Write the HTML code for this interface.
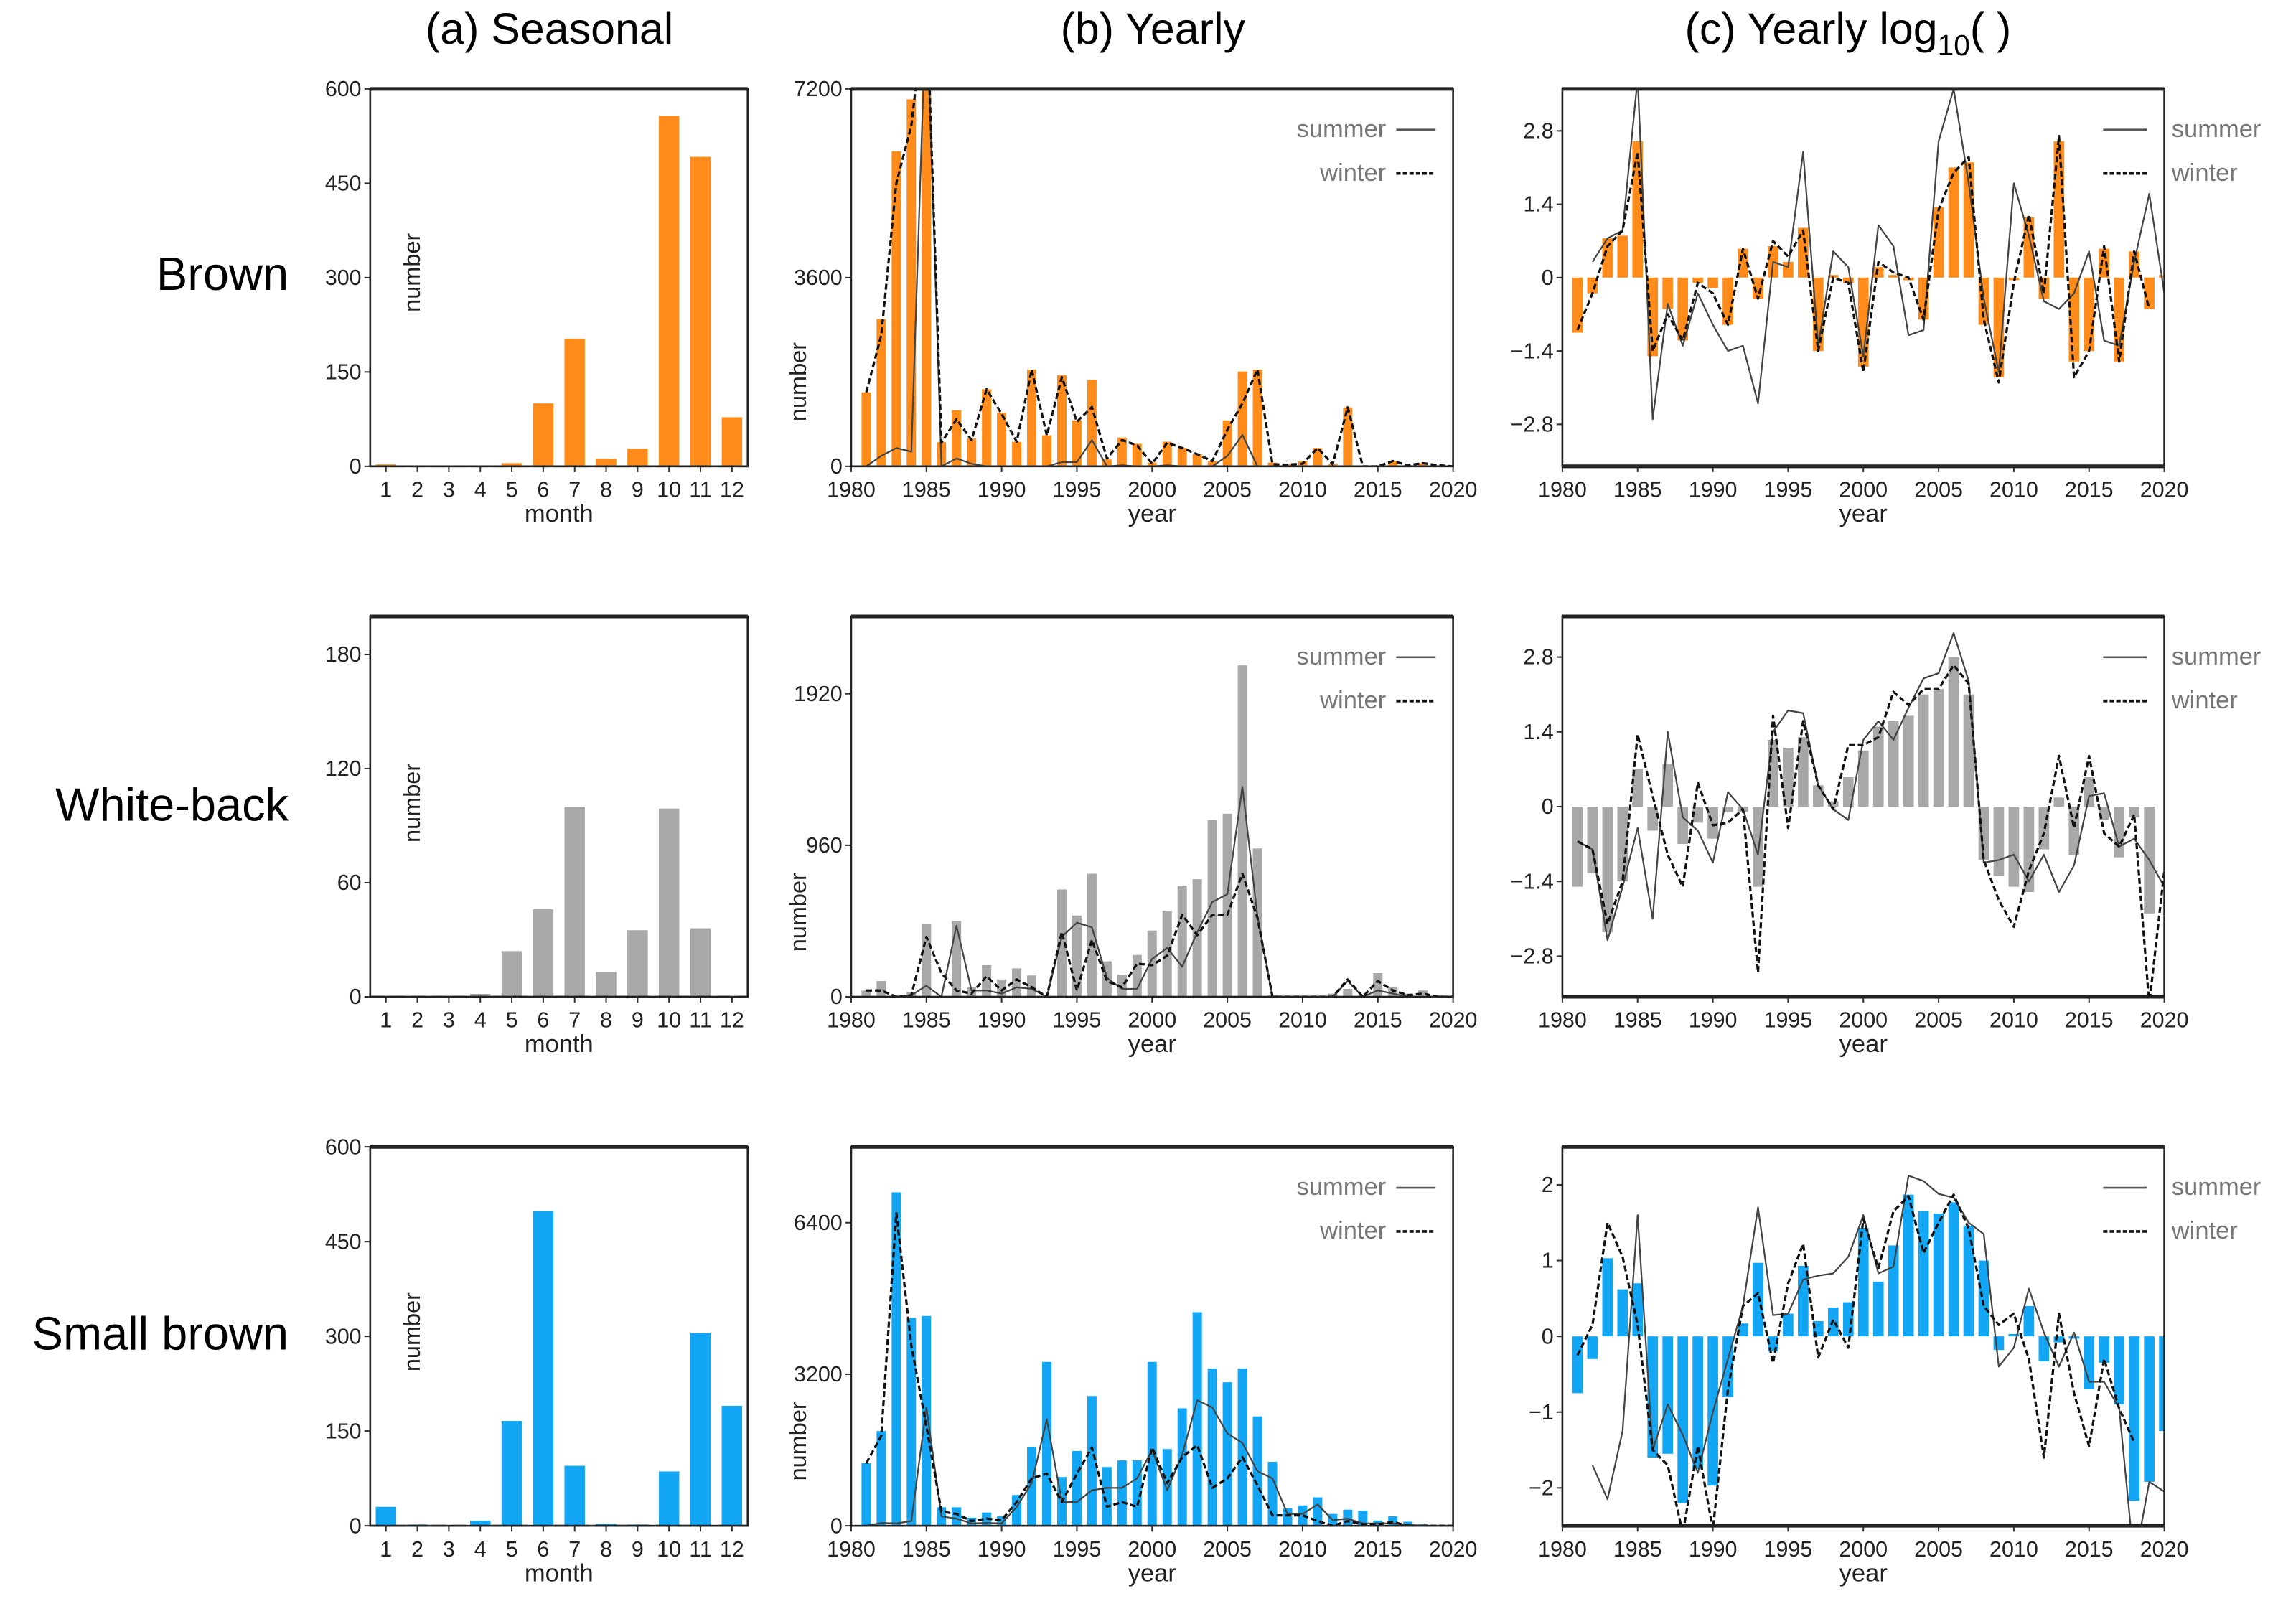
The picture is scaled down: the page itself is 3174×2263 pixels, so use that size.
<!DOCTYPE html>
<html><head><meta charset="utf-8"><title>Seasonal and yearly counts</title>
<style>
html,body{margin:0;padding:0;background:#fff;}
svg{display:block;font-family:"Liberation Sans",sans-serif;}
</style></head>
<body>
<svg id="fig" width="3174" height="2263" viewBox="0 0 1563 1114.4" xmlns="http://www.w3.org/2000/svg">
<rect x="0" y="0" width="1563" height="1114.4" fill="#fff"/>
<text x="377" y="30" font-size="30" text-anchor="middle">(a) Seasonal</text>
<text x="791" y="30" font-size="30" text-anchor="middle">(b) Yearly</text>
<text x="1268" y="30" font-size="30" text-anchor="middle">(c) Yearly log<tspan font-size="20" dy="8">10</tspan><tspan dy="-8">( )</tspan></text>
<text x="198" y="199" font-size="32" text-anchor="end">Brown</text>
<text x="198" y="563" font-size="32" text-anchor="end">White-back</text>
<text x="198" y="926" font-size="32" text-anchor="end">Small brown</text>
<g id="plots"></g>
</svg>
<script>
// ---- data ----
const months = [1,2,3,4,5,6,7,8,9,10,11,12];
const years = [1981,1982,1983,1984,1985,1986,1987,1988,1989,1990,1991,1992,1993,1994,1995,1996,1997,1998,1999,2000,2001,2002,2003,2004,2005,2006,2007,2008,2009,2010,2011,2012,2013,2014,2015,2016,2017,2018,2019,2020];
const yearTicks = [1980,1985,1990,1995,2000,2005,2010,2015,2020];

const brownMonthly = [3,1,1,1,5,100,203,12,28,557,492,78];
const whiteMonthly = [0,0,0,1.5,24,46,100,13,35,99,36,0];
const smallMonthly = [30,2,1,8,166,498,95,3,2,86,305,190];

const brownYearTotal = [1410,2810,6010,7000,9000,460,1070,530,1470,1020,470,1845,590,1740,875,1650,130,550,430,70,470,350,230,100,875,1810,1845,70,40,100,350,40,1125,10,10,100,20,60,20,null];
const brownYearSummer = [0,200,350,280,9000,0,150,50,0,0,0,0,0,80,80,500,0,20,0,0,20,0,0,0,200,600,0,0,0,0,0,0,0,0,0,0,0,0,0,0];
const brownYearWinter = [1410,2500,5400,6500,9000,450,900,500,1470,1000,470,1845,590,1700,850,1130,150,500,400,50,450,350,230,100,700,1200,1845,40,30,50,350,40,1125,0,0,100,20,60,20,0];

const whiteYearTotal = [40,100,10,30,460,0,480,60,200,110,180,135,0,680,515,780,225,140,265,420,545,705,745,1120,1160,2100,940,10,5,5,5,20,50,10,150,60,20,40,10,null];
const whiteYearSummer = [0,0,0,10,70,0,450,40,40,20,60,50,0,380,470,440,120,50,50,240,310,190,410,600,650,1330,510,0,0,0,0,0,100,0,40,20,0,0,0,0];
const whiteYearWinter = [40,40,0,10,380,150,40,20,130,40,110,60,0,410,40,360,100,60,210,200,260,520,390,520,520,780,500,0,0,0,0,0,110,0,100,40,10,20,0,0];

const smallYearTotal = [1320,2000,7040,4390,4430,390,390,170,280,200,650,1670,3460,1030,1580,2740,1240,1380,1380,3460,1620,2480,4510,3320,3030,3320,2310,1350,370,430,600,250,340,320,110,200,85,30,15,null];
const smallYearSummer = [0,60,50,100,2500,200,150,50,60,50,400,900,2250,500,500,750,800,800,1000,1600,750,1500,2650,2500,1950,1750,1150,1000,250,250,450,120,150,50,50,50,20,0,0,0];
const smallYearWinter = [1320,1900,6600,3800,2100,300,250,100,150,120,500,1000,1100,500,1100,1650,400,500,400,1650,900,1450,1700,800,1000,1450,850,220,220,220,100,0,100,30,30,80,0,0,0,0];

const brownLog = [-1.05,-0.3,0.75,0.8,2.6,-1.5,-0.6,-1.2,-0.1,-0.2,-0.9,0.55,-0.4,0.6,0.3,0.95,-1.4,0.05,-0.1,-1.7,0.2,0.05,-0.05,-0.8,1.35,2.1,2.2,-0.9,-1.9,-0.05,1.15,-0.4,2.6,-1.6,-1.4,0.55,-1.6,0.5,-0.6,0.05];
const brownLogSummer = [null,0.3,0.75,0.9,3.8,-2.7,-0.5,-1.3,-0.3,-0.9,-1.4,-1.3,-2.4,0.3,0.2,2.4,-1.3,0.5,0.2,-1.5,1.0,0.6,-1.1,-1.0,2.6,3.6,1.8,-0.4,-1.8,1.8,0.8,-0.45,-0.6,-0.3,0.5,-1.2,-1.3,0.3,1.6,-0.3];
const brownLogWinter = [-1.0,-0.3,0.6,0.9,2.4,-1.4,-0.7,-1.2,-0.1,-0.3,-0.9,0.55,-0.4,0.7,0.4,0.9,-1.4,0.0,-0.1,-1.8,0.3,0.1,0.0,-0.8,1.3,2.0,2.3,-0.8,-2.0,-0.1,1.2,-0.3,2.7,-1.9,-1.4,0.6,-1.6,0.5,-0.6,null];

const whiteLog = [-1.5,-1.25,-2.35,-1.4,0.7,-0.45,0.8,-0.7,-0.3,-0.6,-0.1,-0.1,-1.5,1.25,1.1,1.3,0.4,0.1,0.55,1.05,1.5,1.6,1.7,2.1,2.2,2.8,2.1,-1.0,-1.3,-1.5,-1.6,-0.8,0.17,-0.9,0.55,-0.25,-0.95,-0.2,-2.0,null];
const whiteLogSummer = [-0.65,-0.8,-2.5,-1.5,-0.4,-2.1,1.4,-0.2,-0.45,-1.05,0.27,-0.05,-0.9,1.4,1.8,1.75,0.4,-0.05,-0.25,1.25,1.6,1.25,1.85,2.4,2.5,3.25,2.35,-1.05,-1.0,-0.9,-1.4,-0.9,-1.6,-1.1,0.2,0.25,-0.75,-0.6,-1.0,-1.5];
const whiteLogWinter = [-0.65,-0.8,-2.2,-1.4,1.35,0.2,-0.9,-1.5,0.45,-0.35,-0.3,-0.05,-3.1,1.7,-0.4,1.6,0.4,-0.05,1.15,1.15,1.3,2.15,1.9,2.2,2.2,2.65,2.3,-1.0,-1.75,-2.25,-1.2,-0.5,0.95,-0.4,0.95,-0.5,-0.75,-0.15,-3.7,-1.2];

const smallLog = [-0.75,-0.3,1.03,0.62,0.7,-1.6,-1.55,-2.2,-1.75,-1.97,-0.8,0.17,0.97,-0.2,0.3,0.93,0.2,0.38,0.45,1.43,0.72,1.2,1.87,1.65,1.62,1.77,1.46,1.0,-0.18,0.03,0.4,-0.33,-0.08,-0.03,-0.7,-0.35,-0.9,-2.17,-1.92,-1.25];
const smallLogSummer = [null,-1.7,-2.15,-1.25,1.6,-1.5,-0.9,-1.3,-1.8,-1.0,-0.3,0.4,1.7,0.28,0.3,0.75,0.8,0.83,1.05,1.6,0.83,0.92,2.12,2.05,1.88,1.83,1.5,1.35,-0.4,-0.15,0.63,0.05,-0.4,0.05,-0.6,-0.6,-0.95,-3.0,-1.92,-2.05];
const smallLogWinter = [-0.25,0.15,1.5,1.05,0.15,-1.5,-1.7,-2.6,-1.45,-2.55,-0.7,0.4,0.57,-0.35,0.7,1.22,-0.28,0.22,-0.15,1.55,0.9,1.65,1.85,1.1,1.5,1.87,1.42,0.4,0.15,0.3,-0.3,-1.6,0.3,-0.75,-1.45,-0.3,-0.95,-1.4,null,null];

const brownTicksA = [0,150,300,450,600];
const whiteTicksA = [0,60,120,180];
const brownTicksB = [0,3600,7200];
const whiteTicksB = [0,960,1920];
const smallTicksB = [0,3200,6400];
const logTicks28 = [-2.8,-1.4,0,1.4,2.8];
const logTicks2 = [-2,-1,0,1,2];

// ---- layout ----
const NS = "http://www.w3.org/2000/svg";
const root = document.getElementById('plots');
const cols = {a:[254,513], b:[584,997], c:[1072,1485]};
const rows = [[61,320],[423,684],[787,1047]];
const ORANGE = "#ff8c1a", GRAY = "#a8a8a8", BLUE = "#12a6f5";

function mk(tag, attrs, parent){
  const e = document.createElementNS(NS, tag);
  for (const k in attrs) e.setAttribute(k, attrs[k]);
  (parent||root).appendChild(e);
  return e;
}
function fmt(v){ const s = String(Math.round(v*10)/10); return s.replace('-', '\u2212'); }

function panel(name, col, row, xmin, xmax, ymin, ymax, yticks, xticks, xlabel){
  const [x0,x1] = cols[col], [y0,y1] = rows[row];
  const g = mk('g', {});
  
  
  const sx = v => x0 + (v - xmin) / (xmax - xmin) * (x1 - x0);
  const sy = v => y1 - (v - ymin) / (ymax - ymin) * (y1 - y0);
  const cid = 'clip-' + name;
  const cp = mk('clipPath', {id: cid}, g);
  mk('rect', {x: x0, y: y0, width: x1-x0, height: y1-y0}, cp);
  const plot = mk('g', {'clip-path': 'url(#' + cid + ')'}, g);
  const axes = mk('g', {}, g);
  
  
  // y ticks
  yticks.forEach(t => {
    const y = sy(t);
    mk('line', {x1: x0-4, x2: x0, y1: y, y2: y, stroke: '#333', 'stroke-width': 1}, axes);
    const tx = mk('text', {x: x0-6, y: y+5, 'font-size': 15, 'text-anchor': 'end', fill: '#222'}, axes);
    
    
    tx.textContent = fmt(t);
  });
  // x ticks
  xticks.forEach(t => {
    const x = sx(t);
    mk('line', {x1: x, x2: x, y1: y1, y2: y1+4, stroke: '#333', 'stroke-width': 1}, axes);
    const tx = mk('text', {x: x, y: y1+21, 'font-size': 15, 'text-anchor': 'middle', fill: '#222'}, axes);
    
    
    tx.textContent = t;
  });
  const xl = mk('text', {x: (x0+x1)/2, y: y1+38, 'font-size': 17, 'text-anchor': 'middle', fill: '#222'}, axes);
  
  
  xl.textContent = xlabel;
  return {g, plot, axes, sx, sy, x0, x1, y0, y1};
}
function frame(p){
  const r = mk('rect', {x: p.x0, y: p.y0, width: p.x1-p.x0, height: p.y1-p.y0, fill: 'none', stroke: '#222', 'stroke-width': 1.3}, p.g);
  
  
  mk('line', {x1: p.x0, x2: p.x1, y1: p.y0, y2: p.y0, stroke: '#222', 'stroke-width': 2.5}, p.g);
}
function bars(p, xs, vals, w, color, nm){
  xs.forEach((x, i) => {
    const v = vals[i];
    if (v === null || v === undefined) return;
    const ya = p.sy(Math.max(v,0)), yb = p.sy(Math.min(v,0));
    const r = mk('rect', {x: p.sx(x - w/2), y: ya, width: p.sx(x + w/2) - p.sx(x - w/2), height: Math.max(0, yb-ya), fill: color}, p.plot);
    
    
  });
}
function line(p, xs, vals, dashed, nm){
  let d = '', pen = false;
  xs.forEach((x, i) => {
    const v = vals[i];
    if (v === null || v === undefined) { pen = false; return; }
    d += (pen ? 'L' : 'M') + p.sx(x).toFixed(2) + ' ' + p.sy(v).toFixed(2);
    pen = true;
  });
  const path = mk('path', {d: d, fill: 'none', stroke: dashed ? '#111' : '#444', 'stroke-width': dashed ? 1.6 : 1.1, 'stroke-dasharray': dashed ? '4 2' : 'none', 'stroke-linejoin': 'round'}, p.plot);
  
  
}
function yTitle(p, x, y){
  const t = mk('text', {x: x, y: y, 'font-size': 16, 'text-anchor': 'middle', fill: '#222', transform: 'rotate(-90 ' + x + ' ' + y + ')'}, p.axes);
  
  
  t.textContent = 'number';
}
function legend(p, inside){
  const lg = mk('g', {}, p.g);
  
  
  const rowsL = [['summer', false, p.y0+33], ['winter', true, p.y0+63]];
  rowsL.forEach(([lab, dash, y]) => {
    let lx0, lx1, tx, anchor;
    if (inside) { lx0 = p.x1-39; lx1 = p.x1-12; tx = p.x1-46; anchor = 'end'; }
    else { lx0 = p.x1-42; lx1 = p.x1-12; tx = p.x1+5; anchor = 'start'; }
    const l = mk('line', {x1: lx0, x2: lx1, y1: y-5, y2: y-5, stroke: dash ? '#111' : '#555', 'stroke-width': dash ? 1.8 : 1.3, 'stroke-dasharray': dash ? '3 1.5' : 'none'}, lg);
    
    
    const t = mk('text', {x: tx, y: y, 'font-size': 17, 'text-anchor': anchor, fill: '#777'}, lg);
    
    
    t.textContent = lab;
  });
}

const rowDefs = [
  {key:'brown', color: ORANGE, monthly: brownMonthly, aMax: 600, aTicks: brownTicksA,
   tot: brownYearTotal, su: brownYearSummer, wi: brownYearWinter, bMax: 7200, bTicks: brownTicksB,
   lg: brownLog, lsu: brownLogSummer, lwi: brownLogWinter, cLim: 3.6, cTicks: logTicks28},
  {key:'white-back', color: GRAY, monthly: whiteMonthly, aMax: 200, aTicks: whiteTicksA,
   tot: whiteYearTotal, su: whiteYearSummer, wi: whiteYearWinter, bMax: 2410, bTicks: whiteTicksB,
   lg: whiteLog, lsu: whiteLogSummer, lwi: whiteLogWinter, cLim: 3.56, cTicks: logTicks28},
  {key:'small-brown', color: BLUE, monthly: smallMonthly, aMax: 600, aTicks: brownTicksA,
   tot: smallYearTotal, su: smallYearSummer, wi: smallYearWinter, bMax: 8000, bTicks: smallTicksB,
   lg: smallLog, lsu: smallLogSummer, lwi: smallLogWinter, cLim: 2.5, cTicks: logTicks2}
];

rowDefs.forEach((r, ri) => {
  // (a) seasonal
  const pa = panel(r.key + '-seasonal-chart', 'a', ri, 0.5, 12.5, 0, r.aMax, r.aTicks, months, 'month');
  bars(pa, months, r.monthly, 0.65, r.color, 'month-bar');
  mk('line', {x1: pa.x0, x2: pa.x1, y1: pa.y1, y2: pa.y1, stroke: '#222', 'stroke-width': 1.3, 'stroke-dasharray': '10 4'}, pa.g);
  frame(pa);
  yTitle(pa, 288, pa.y1 - 133);
  // (b) yearly
  const pb = panel(r.key + '-yearly-chart', 'b', ri, 1980, 2020, 0, r.bMax, r.bTicks, yearTicks, 'year');
  bars(pb, years, r.tot, 0.62, r.color, 'year-bar');
  line(pb, years, r.su, false, 'summer-line');
  line(pb, years, r.wi, true, 'winter-line');
  frame(pb);
  yTitle(pb, 553, pb.y1 - 58);
  legend(pb, true);
  // (c) log
  const pc = panel(r.key + '-log-chart', 'c', ri, 1980, 2020, -r.cLim, r.cLim, r.cTicks, yearTicks, 'year');
  bars(pc, years, r.lg, 0.7, r.color, 'log-bar');
  line(pc, years, r.lsu, false, 'summer-log-line');
  line(pc, years, r.lwi, true, 'winter-log-line');
  frame(pc);
  mk('line', {x1: pc.x0, x2: pc.x1, y1: pc.y1, y2: pc.y1, stroke: '#222', 'stroke-width': 2.5}, pc.g);
  legend(pc, false);
});
</script>
</body></html>
